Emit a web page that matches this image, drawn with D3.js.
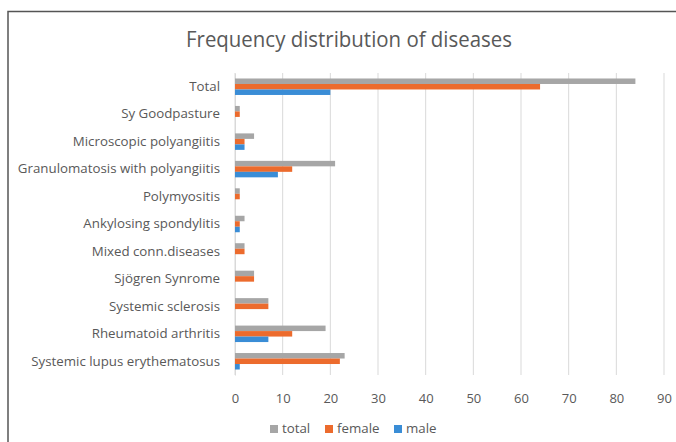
<!DOCTYPE html>
<html><head><meta charset="utf-8">
<script src="https://cdn.jsdelivr.net/npm/d3@7"></script>
<style>body{margin:0;background:#fff}svg{display:block}</style>
</head><body>
<svg id="c" width="676" height="442"></svg>
<script>
const categories = ["Total","Sy Goodpasture","Microscopic polyangiitis","Granulomatosis with polyangiitis","Polymyositis","Ankylosing spondylitis","Mixed conn.diseases","Sjögren Synrome","Systemic sclerosis","Rheumatoid arthritis","Systemic lupus erythematosus"];
const totalValues  = [84,1,4,21,1,2,2,4,7,19,23];
const femaleValues = [64,1,2,12,1,1,2,4,7,12,22];
const maleValues   = [20,0,2,9,0,1,0,0,0,7,1];
const seriesNames = ["total","female","male"];
const seriesColors = ["#A6A6A6","#EC6B2D","#3A8DD6"];
const xTicks = [0,10,20,30,40,50,60,70,80,90];

const series = [totalValues, femaleValues, maleValues];
const svg = d3.select("#c");
const font = "'Open Sans', 'Noto Sans', sans-serif";
const txt = "#595959";

// frame
svg.append("path").attr("d","M8,442 L8,11.5 L676,11.5").attr("fill","none").attr("stroke","#555").attr("stroke-width",1.5);

svg.append("text").attr("x",349).attr("y",47).attr("text-anchor","middle")
  .attr("font-family",font).attr("font-size",22.5).attr("fill",txt)
  .attr("textLength",326).attr("lengthAdjust","spacingAndGlyphs")
  .text("Frequency distribution of diseases");

const x = d3.scaleLinear().domain([0,90]).range([235,664]);
const y = d3.scaleBand().domain(categories).range([73,375]).paddingInner(0.4).paddingOuter(0.2);
const ys = d3.scaleBand().domain(seriesNames).range([0,y.bandwidth()]);

// gridlines
svg.append("g").selectAll("line").data(xTicks).join("line")
  .attr("x1",d=>x(d)).attr("x2",d=>x(d)).attr("y1",73).attr("y2",375)
  .attr("stroke","#D9D9D9").attr("stroke-width",1);

// x axis labels
const xa = svg.append("g").attr("transform","translate(0,375)")
  .call(d3.axisBottom(x).tickValues(xTicks).tickSize(0).tickPadding(19));
xa.select(".domain").remove();
xa.selectAll("text").attr("font-family",font).attr("font-size",13).attr("fill",txt);

// y axis labels
const ya = svg.append("g").attr("transform","translate(235,0)")
  .call(d3.axisLeft(y).tickSize(0).tickPadding(15));
ya.select(".domain").attr("stroke","#D9D9D9");
ya.selectAll("text").attr("font-family",font).attr("font-size",13.3).attr("fill",txt);

// bars
const g = svg.append("g");
categories.forEach((c,i)=>{
  seriesNames.forEach((s,j)=>{
    const v = series[j][i];
    if(v>0) g.append("rect").attr("x",x(0)).attr("y",y(c)+ys(s))
      .attr("width",x(v)-x(0)).attr("height",ys.bandwidth())
      .attr("fill",seriesColors[j]);
  });
});

// legend
const lx = [270,325,394];
const lg = svg.append("g");
seriesNames.forEach((s,j)=>{
  lg.append("rect").attr("x",lx[j]).attr("y",425).attr("width",8).attr("height",8).attr("fill",seriesColors[j]);
  lg.append("text").attr("x",lx[j]+12).attr("y",433).attr("font-family",font).attr("font-size",13.3).attr("fill",txt).text(s);
});
</script>
</body></html>
